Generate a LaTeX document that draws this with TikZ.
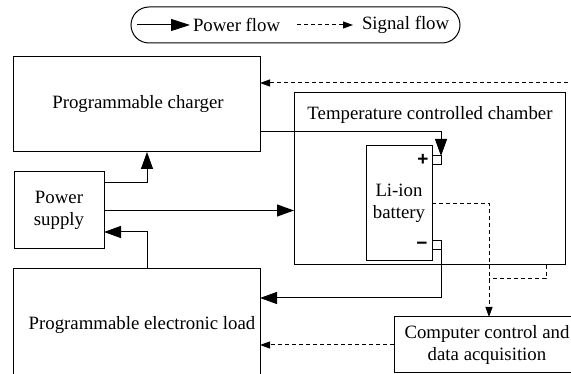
\documentclass[tikz,border=0pt]{standalone}
\usepackage{fontspec}
\setmainfont{Liberation Serif}
\newfontfamily\signfont{Liberation Sans}
\usetikzlibrary{arrows.meta,calc}
\begin{document}
\begin{tikzpicture}[x=1pt,y=-1pt,
  line width=1pt,
  every node/.style={font=\fontsize{18.8}{22}\selectfont, inner sep=0pt, outer sep=0pt},
  box/.style={draw, line width=1pt, align=center},
  term/.style={draw, line width=1pt, minimum width=9pt, minimum height=9pt},
  power/.style={-{Triangle[length=17pt,width=12pt]}},
  signal/.style={dash pattern=on 4pt off 3pt, -{Triangle[length=10pt,width=7pt]}},
  sigline/.style={dash pattern=on 4pt off 3pt},
  sign/.style={font=\signfont\fontsize{19}{19}\bfseries\selectfont}
]
\useasboundingbox (0,0) rectangle (571,374);
\clip (0,0) rectangle (571,374);

% legend
\node[draw, rounded corners=18pt, minimum width=329pt, minimum height=36pt] (legend) at (295.5,25) {};
\coordinate (lp1) at (137,25);
\coordinate (lp2) at (190,25);
\node[anchor=west] (ltxt1) at (193,25) {Power flow};
\coordinate (ls1) at (297,25);
\coordinate (ls2) at (353,25);
\node[anchor=west] (ltxt2) at (362,25) {Signal flow};
\draw[-{Triangle[length=19pt,width=12pt]}] (lp1) -- (lp2);
\draw[signal] (ls1) -- (ls2);

% boxes
\node[box, minimum width=247pt, minimum height=95pt] (charger) at (136.5,104.5) {};
\node (chargertxt) at (138,104.5) {Programmable charger};
\node[box, minimum width=90pt, minimum height=77pt] (ps) at (59,210.5) {Power\\supply};
\node[box, minimum width=247pt, minimum height=112pt] (load) at (136.5,325) {};
\node (loadtxt) at (142,325) {Programmable electronic load};
\node[box, minimum width=271pt, minimum height=172pt] (chamber) at (429.5,179) {};
\node (chambertxt) at (430,115) {Temperature controlled chamber};
\node[box, minimum width=66pt, minimum height=115pt] (battery) at (399,203.5) {Li-ion\\battery};
\node[term] (pt) at (436.5,160.5) {};
\node[term] (mt) at (436.5,245.5) {};
\node[sign] (plus) at (423,159.5) {+};
\node[sign] (minus) at (422,246) {−};
\node[box, minimum width=186pt, minimum height=56pt] (computer) at (487,345) {Computer control and\\data acquisition};

% power connectors
\draw[power] (charger.east |- 0,132) -| (pt.north east);
\draw[power] (ps.east |- 0,183) -| (charger.south -| 147,0);
\draw[power] (ps.east) -- (chamber.west |- ps.east);
\draw[power] (load.north -| 147,0) |- (ps.east |- 0,232);
\draw[power] (mt.south east) |- (load.east |- 0,298);

% signal connectors
\coordinate (j) at (489,279);
\coordinate (topfree) at (575,83);
\draw[signal] (battery.east) -| (computer.north -| j);
\draw[sigline] (chamber.south -| 546,0) |- (j);
\draw[signal] (topfree) -- (charger.east |- topfree);
\draw[signal] (computer.west) -- (load.east |- computer.west);
\end{tikzpicture}
\end{document}
